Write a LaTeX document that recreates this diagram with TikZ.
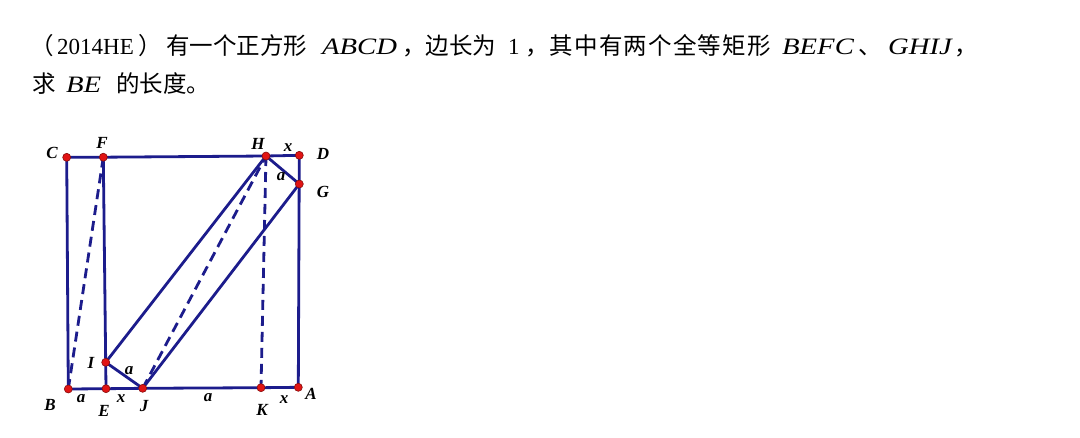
\documentclass[tikz,border=0pt]{standalone}
\usepackage{fontspec}
\setmainfont{Liberation Serif}
\newfontfamily\cjk{Noto Sans CJK SC}
\newfontfamily\cjkwide[LetterSpace=5]{Noto Sans CJK SC}
\newfontfamily\qit[FakeStretch=1.22]{Liberation Serif}
\usetikzlibrary{positioning}

\begin{document}
\begin{tikzpicture}[x=1pt,y=-1pt,
  side/.style={draw=navy, line width=2.8pt, line cap=round, line join=round},
  hidden/.style={side, dash pattern=on 10pt off 6pt, line cap=butt},
  dot/.style={circle, fill=dotred, draw=dotred!60!black, line width=0.6pt, inner sep=0pt, minimum size=8pt},
  lbl/.style={font=\fontsize{17}{17}\selectfont\bfseries\itshape, inner sep=0pt},
  txt/.style={font=\fontsize{23.5}{26}\selectfont, inner sep=0pt, anchor=base west}]
\definecolor{navy}{RGB}{28,28,140}
\definecolor{dotred}{RGB}{225,20,20}
\useasboundingbox[fill=white] (0,0) rectangle (1080,437);

% the question
\node[txt] (q1a) at (30,54) {\cjk （};
\node[txt] (q1b) at (57,54) {\fontsize{23}{26}\selectfont 2014HE};
\node[txt] (q1c) at (138,54) {\cjk ）};
\node[txt] (q1d) at (166,54) {\cjk 有一个正方形};
\node[txt] (q1e) at (322,54) {\qit\itshape ABCD};
\node[txt] (q1f) at (402,54) {\cjk ，边长为};
\node[txt] (q1g) at (508,54) {\fontsize{23}{26}\selectfont 1};
\node[txt] (q1h) at (525,54) {\cjkwide ，其中有两个全等矩形};
\node[txt] (q1i) at (782,54) {\qit\itshape BEFC};
\node[txt] (q1j) at (858,54) {\cjk 、};
\node[txt] (q1k) at (888,54) {\qit\itshape GHIJ};
\node[txt] (q1l) at (954,54) {\cjk ，};
\node[txt] (q2a) at (32,92) {\cjk 求};
\node[txt] (q2b) at (66,92) {\qit\itshape BE};
\node[txt] (q2c) at (116,92) {\cjk 的长度。};

% points of the square and the two rectangles
\coordinate (A) at (298.3,387.3);
\coordinate (B) at (68.3,389);
\coordinate (C) at (66.7,157.3);
\coordinate (D) at (299.3,155.3);
\coordinate (E) at (106,388.7);
\coordinate (F) at (103.3,157.2);
\coordinate (G) at (299.3,184);
\coordinate (H) at (266,156);
\coordinate (I) at (105.7,362.3);
\coordinate (J) at (142.7,388.3);
\coordinate (K) at (261,387.7);

\draw[side] (A) -- (D) -- (H) -- (F) -- (C) -- (B) -- (E) -- (J) -- (K) -- (A);
\draw[side] (E) -- (I) -- (F);
\draw[side] (H) -- (G) -- (J) -- (I) -- (H);
\draw[hidden] (B) -- (F);
\draw[hidden] (J) -- (H);
\draw[hidden] (H) -- (K);

\foreach \p in {A,B,C,D,E,F,G,H,I,J,K}
  \node[dot] (d\p) at (\p) {};

% letters
\node[lbl] (lC) at (52,153) {C};
\node[lbl] (lF) at (102,143) {F};
\node[lbl] (lH) at (258,144) {H};
\node[lbl] (lD) at (323,154) {D};
\node[lbl] (lG) at (323,192) {G};
\node[lbl] (lI) at (91,363) {I};
\node[lbl] (lB) at (50,405) {B};
\node[lbl] (lE) at (104,411) {E};
\node[lbl] (lJ) at (144,406) {J};
\node[lbl] (lK) at (262,410) {K};
\node[lbl] (lA) at (311,394) {A};
% lengths
\node[lbl] (xHD) at (288,148) {x};
\node[lbl] (aHG) at (281,177) {a};
\node[lbl] (aIJ) at (129,371) {a};
\node[lbl] (aBE) at (81,399) {a};
\node[lbl] (xEJ) at (121,399) {x};
\node[lbl] (aJK) at (208,398) {a};
\node[lbl] (xKA) at (284,400) {x};
\end{tikzpicture}
\end{document}
